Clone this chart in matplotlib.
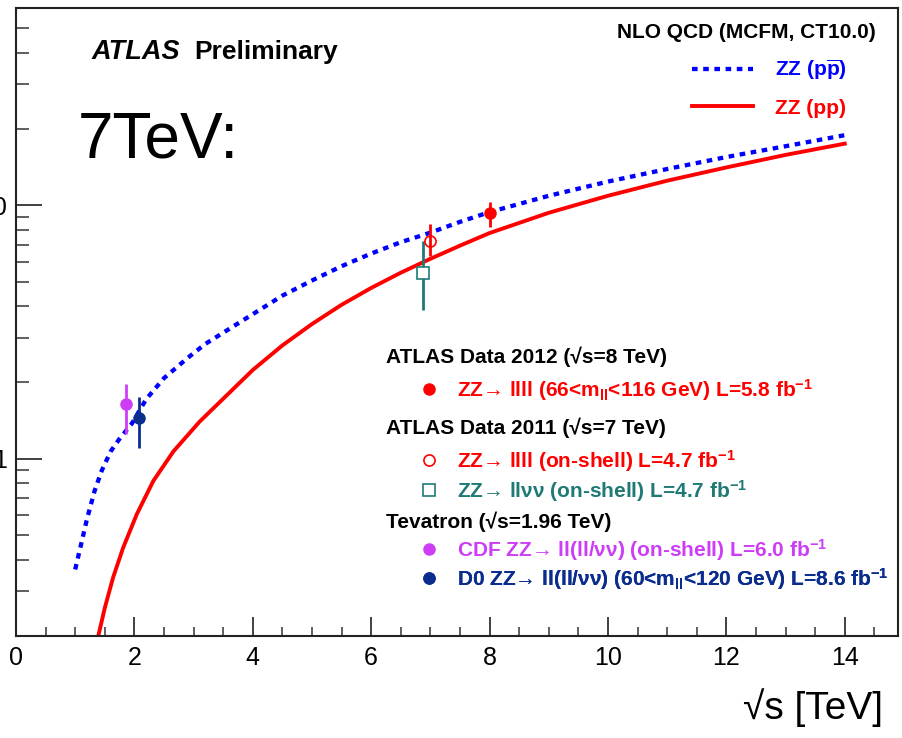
import matplotlib
matplotlib.use("Agg")
import matplotlib.pyplot as plt
from matplotlib.lines import Line2D
from matplotlib.ticker import FixedLocator, NullFormatter, FixedFormatter

plt.rcParams['font.family'] = ['Liberation Sans', 'DejaVu Sans']
plt.rcParams['mathtext.fontset'] = 'custom'
plt.rcParams['mathtext.rm'] = 'Liberation Sans:bold'
plt.rcParams['mathtext.it'] = 'Liberation Sans:bold'
plt.rcParams['mathtext.bf'] = 'Liberation Sans:bold'
plt.rcParams['mathtext.sf'] = 'Liberation Sans:bold'

# ---------------- data ----------------
ppbar_x = [1.0, 1.1, 1.2, 1.33, 1.45, 1.6, 1.75, 1.96, 2.2, 2.5, 2.9, 3.2, 3.6, 4.0, 4.5, 5.0,
           5.5, 6.0, 6.5, 7.0, 7.5, 8.0, 9.0, 10.0, 11.0, 12.0, 13.0, 14.0]
ppbar_y = [0.366, 0.46, 0.58, 0.75, 0.90, 1.07, 1.20, 1.38, 1.72, 2.08, 2.5, 2.84, 3.25, 3.72, 4.4, 5.05,
           5.75, 6.45, 7.15, 7.8, 8.6, 9.4, 10.9, 12.4, 13.9, 15.5, 17.1, 18.9]

pp_x = [1.3, 1.39, 1.5, 1.64, 1.81, 2.04, 2.32, 2.66, 3.1, 3.56, 4.0, 4.5, 5.0, 5.5, 6.0, 6.5,
        7.0, 7.5, 8.0, 9.0, 10.0, 11.0, 12.0, 13.0, 14.0]
pp_y = [0.15, 0.2, 0.258, 0.34, 0.446, 0.604, 0.818, 1.07, 1.40, 1.78, 2.24, 2.8, 3.4, 4.05, 4.72, 5.42,
        6.15, 6.93, 7.77, 9.34, 10.9, 12.5, 14.1, 15.8, 17.5]

atlas12_x, atlas12_y, atlas12_lo, atlas12_hi = [8.0], [9.3], [1.1], [1.0]
atlas11_4l_x, atlas11_4l_y, atlas11_4l_lo, atlas11_4l_hi = [7.0], [7.2], [0.9], [1.2]
atlas11_2l2v_x, atlas11_2l2v_y, atlas11_2l2v_lo, atlas11_2l2v_hi = [6.88], [5.4], [1.55], [1.85]
cdf_x, cdf_y, cdf_lo, cdf_hi = [1.86], [1.64], [0.39], [0.34]
d0_x, d0_y, d0_lo, d0_hi = [2.08], [1.45], [0.35], [0.31]

x_ticks = [0, 2, 4, 6, 8, 10, 12, 14]
y_major = [1, 10]
y_major_labels = ["1", "10"]
y_minor = [0.2, 0.3, 0.4, 0.5, 0.6, 0.7, 0.8, 0.9, 2, 3, 4, 5, 6, 7, 8, 9, 20, 30, 40, 50]

labels_theory = ["ZZ (p$\\overline{p}$)", "ZZ (pp)"]
title_theory = "NLO QCD (MCFM, CT10.0)"
headers = ["ATLAS Data 2012 (\u221as=8 TeV)", "ATLAS Data 2011 (\u221as=7 TeV)", "Tevatron (\u221as=1.96 TeV)"]
label_a12 = "ZZ\u2192 llll (66<m$_{ll}$<116 GeV) L=5.8 fb$^{-1}$"
label_a11_4l = "ZZ\u2192 llll (on-shell) L=4.7 fb$^{-1}$"
label_a11_2l2v = "ZZ\u2192 ll\u03bd\u03bd (on-shell) L=4.7 fb$^{-1}$"
label_cdf = "CDF ZZ\u2192 ll(ll/\u03bd\u03bd) (on-shell) L=6.0 fb$^{-1}$"
label_d0 = "D0 ZZ\u2192 ll(ll/\u03bd\u03bd) (60<m$_{ll}$<120 GeV) L=8.6 fb$^{-1}$"

# colours
c_red = "#FF0000"
c_blue = "#0000FF"
c_teal = "#1F7A76"
c_mag = "#CC3DF5"
c_navy = "#0B2E8E"

W, H = 903, 738
fig = plt.figure(figsize=(W / 100, H / 100), dpi=100)
L, R, T, B = 16, 898, 8, 636
ax = fig.add_axes([L / W, (H - B) / H, (R - L) / W, (B - T) / H])

def ax_xy(px, py):
    return ((px - L) / (R - L), (B - py) / (B - T))

# curves
l_ppbar, = ax.plot(ppbar_x, ppbar_y, color=c_blue, lw=3.1, linestyle=(0, (1.3, 1.3)),
                   dash_capstyle='butt', zorder=2)
l_pp, = ax.plot(pp_x, pp_y, color=c_red, lw=2.8, zorder=2)

# data points
eb_kw = dict(capsize=0, elinewidth=2.0, zorder=4)
ax.errorbar(atlas11_2l2v_x, atlas11_2l2v_y, yerr=[atlas11_2l2v_lo, atlas11_2l2v_hi], fmt='s',
            mfc='white', mec=c_teal, mew=1.2, ms=8, color=c_teal, **eb_kw)
ax.errorbar(atlas11_4l_x, atlas11_4l_y, yerr=[atlas11_4l_lo, atlas11_4l_hi], fmt='o',
            mfc='none', mec=c_red, mew=1.2, ms=8, color=c_red, **eb_kw)
ax.errorbar(atlas12_x, atlas12_y, yerr=[atlas12_lo, atlas12_hi], fmt='o',
            color=c_red, ms=8, **eb_kw)
ax.errorbar(cdf_x, cdf_y, yerr=[cdf_lo, cdf_hi], fmt='o', color=c_mag, ms=8, **eb_kw)
ax.errorbar(d0_x, d0_y, yerr=[d0_lo, d0_hi], fmt='o', color=c_navy, ms=8, **eb_kw)

# axes setup
ax.set_yscale('log')
ax.set_xlim(0, 14.9)
ax.set_ylim(0.2, 60)
ax.xaxis.set_major_locator(FixedLocator(x_ticks))
ax.xaxis.set_minor_locator(FixedLocator([v * 0.5 for v in range(0, 30)]))
ax.yaxis.set_major_locator(FixedLocator(y_major))
ax.yaxis.set_major_formatter(FixedFormatter(y_major_labels))
ax.yaxis.set_minor_locator(FixedLocator(y_minor))
ax.yaxis.set_minor_formatter(NullFormatter())
for s in ['top', 'right', 'left', 'bottom']:
    ax.spines[s].set_linewidth(1.5)
    ax.spines[s].set_color('#222222')
ax.tick_params(axis='x', which='major', direction='in', length=13.5, width=1.3, labelsize=18, pad=7,
               color='#333333', top=False)
ax.tick_params(axis='x', which='minor', direction='in', length=6.5, width=1.1, color='#333333', top=False)
ax.tick_params(axis='y', which='major', direction='in', length=18.5, width=1.3, labelsize=18, pad=6.5,
               color='#333333', right=False)
ax.tick_params(axis='y', which='minor', direction='in', length=9.4, width=1.1, color='#333333', right=False)

ax.set_xlabel("\u221as [TeV]", fontsize=28, ha='right', va='center')
ax.xaxis.set_label_coords(*ax_xy(883, 708))

# texts
ax.text(*ax_xy(92, 52), "ATLAS", transform=ax.transAxes, fontsize=19.5, fontweight='bold',
        fontstyle='italic', va='center', ha='left')
ax.text(*ax_xy(194, 52), "Preliminary", transform=ax.transAxes, fontsize=19, fontweight='bold',
        va='center', ha='left')
ax.text(*ax_xy(78, 141), "7TeV:", transform=ax.transAxes, fontsize=46, va='center', ha='left')
ax.text(*ax_xy(617, 33), title_theory, transform=ax.transAxes, fontsize=15, fontweight='bold',
        va='center', ha='left')

fs = 15
prop = {'family': 'Liberation Sans', 'weight': 'bold', 'size': fs}

def add_leg(handle, label, color, px_left, py, hl, htp):
    leg = ax.legend([handle], [label], loc='center left', bbox_to_anchor=ax_xy(px_left, py),
                    bbox_transform=ax.transAxes, frameon=False, borderpad=0, borderaxespad=0,
                    handlelength=hl, handletextpad=htp, prop=prop, numpoints=1)
    for t in leg.get_texts():
        t.set_color(color)
    ax.add_artist(leg)
    return leg

# theory legend
add_leg(l_ppbar, labels_theory[0], c_blue, 692, 70, 2.93, 1.06)
add_leg(l_pp, labels_theory[1], c_red, 692, 108, 2.93, 1.06)

# data legend
hx = 386
for htxt, py in zip(headers, [357, 428, 522]):
    ax.text(*ax_xy(hx, py), htxt, transform=ax.transAxes, fontsize=fs, fontweight='bold',
            va='center', ha='left', color='black')

h_a12 = Line2D([], [], marker='o', ls='none', color=c_red, ms=8)
h_a11_4l = Line2D([], [], marker='o', ls='none', mfc='none', mec=c_red, mew=1.2, ms=8)
h_a11_2l2v = Line2D([], [], marker='s', ls='none', mfc='none', mec=c_teal, mew=1.2, ms=8)
h_cdf = Line2D([], [], marker='o', ls='none', color=c_mag, ms=8)
h_d0 = Line2D([], [], marker='o', ls='none', color=c_navy, ms=8)

mleft = 429 - fs * 100 / 72 / 2
htp = (457 - (mleft + fs * 100 / 72)) / (fs * 100 / 72)
add_leg(h_a12, label_a12, c_red, mleft, 390, 1.0, htp)
add_leg(h_a11_4l, label_a11_4l, c_red, mleft, 461, 1.0, htp)
add_leg(h_a11_2l2v, label_a11_2l2v, c_teal, mleft, 491, 1.0, htp)
add_leg(h_cdf, label_cdf, c_mag, mleft, 550, 1.0, htp)
add_leg(h_d0, label_d0, c_navy, mleft, 579, 1.0, htp)

fig.savefig("out.png", dpi=100)
